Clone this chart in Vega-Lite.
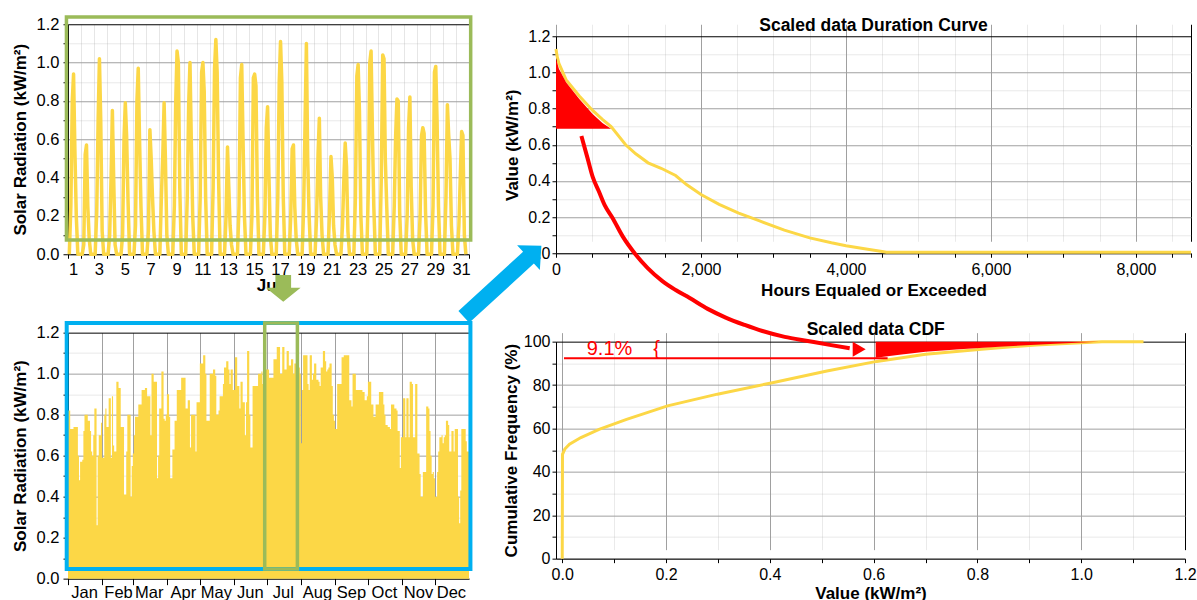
{
"$schema": "https://vega.github.io/schema/vega-lite/v6.json",
"background": "white",
"padding": {"left": 11, "top": 14.25, "right": 0, "bottom": 0},
"autosize": {"type": "pad"},
"columns": 2,
"spacing": {"row": 78.4, "column": 87},
"bounds": "flush",
"align": "each",
"config": {
  "view": {"stroke": null},
  "font": "Liberation Sans",
  "axis": {"labelFont": "Liberation Sans", "titleFont": "Liberation Sans", "labelColor": "#000000", "titleColor": "#000000", "domainColor": "#000000", "tickColor": "#000000", "titleFontWeight": "bold", "labelFontSize": 16, "titleFontSize": 17, "labelFlush": false, "labelOverlap": false, "labelBound": false, "domainWidth": 1, "tickWidth": 1, "gridWidth": 1, "grid": true, "tickCount": 100}
},
"concat": [
{
  "width": 401, "height": 230,
  "layer": [
    {
      "data": {"values": [
{"t":0.10,"v":0},{"t":0.22,"v":0.25},{"t":0.33,"v":0.80},{"t":0.43,"v":0.94},{"t":0.53,"v":0.55},{"t":0.64,"v":0.20},{"t":0.76,"v":0},
{"t":1.10,"v":0},{"t":1.22,"v":0.05},{"t":1.33,"v":0.52},{"t":1.43,"v":0.57},{"t":1.53,"v":0.25},{"t":1.64,"v":0.08},{"t":1.76,"v":0},
{"t":2.10,"v":0},{"t":2.22,"v":0.22},{"t":2.33,"v":0.70},{"t":2.43,"v":1.02},{"t":2.53,"v":0.70},{"t":2.64,"v":0.12},{"t":2.76,"v":0},
{"t":3.10,"v":0},{"t":3.22,"v":0.10},{"t":3.33,"v":0.40},{"t":3.43,"v":0.75},{"t":3.53,"v":0.40},{"t":3.64,"v":0.05},{"t":3.76,"v":0},
{"t":4.10,"v":0},{"t":4.22,"v":0.10},{"t":4.33,"v":0.60},{"t":4.43,"v":0.79},{"t":4.53,"v":0.62},{"t":4.64,"v":0.28},{"t":4.76,"v":0},
{"t":5.10,"v":0},{"t":5.22,"v":0.15},{"t":5.33,"v":0.80},{"t":5.43,"v":0.97},{"t":5.53,"v":0.60},{"t":5.64,"v":0.25},{"t":5.76,"v":0},
{"t":6.10,"v":0},{"t":6.22,"v":0.12},{"t":6.33,"v":0.65},{"t":6.43,"v":0.50},{"t":6.53,"v":0.30},{"t":6.64,"v":0.12},{"t":6.76,"v":0},
{"t":7.10,"v":0},{"t":7.22,"v":0.30},{"t":7.33,"v":0.52},{"t":7.43,"v":0.79},{"t":7.53,"v":0.50},{"t":7.64,"v":0.10},{"t":7.76,"v":0},
{"t":8.10,"v":0},{"t":8.22,"v":0.25},{"t":8.33,"v":0.80},{"t":8.43,"v":1.06},{"t":8.53,"v":1.00},{"t":8.64,"v":0.35},{"t":8.76,"v":0},
{"t":9.10,"v":0},{"t":9.22,"v":0.30},{"t":9.33,"v":0.78},{"t":9.43,"v":1.00},{"t":9.53,"v":0.60},{"t":9.64,"v":0.20},{"t":9.76,"v":0},
{"t":10.10,"v":0},{"t":10.22,"v":0.30},{"t":10.33,"v":0.95},{"t":10.43,"v":1.00},{"t":10.53,"v":0.85},{"t":10.64,"v":0.30},{"t":10.76,"v":0},
{"t":11.10,"v":0},{"t":11.22,"v":0.35},{"t":11.33,"v":0.97},{"t":11.43,"v":1.12},{"t":11.53,"v":0.95},{"t":11.64,"v":0.40},{"t":11.76,"v":0},
{"t":12.10,"v":0},{"t":12.22,"v":0.20},{"t":12.33,"v":0.56},{"t":12.43,"v":0.35},{"t":12.53,"v":0.15},{"t":12.64,"v":0.05},{"t":12.76,"v":0},
{"t":13.10,"v":0},{"t":13.22,"v":0.25},{"t":13.33,"v":0.92},{"t":13.43,"v":0.99},{"t":13.53,"v":0.60},{"t":13.64,"v":0.20},{"t":13.76,"v":0},
{"t":14.10,"v":0},{"t":14.22,"v":0.20},{"t":14.33,"v":0.92},{"t":14.43,"v":0.94},{"t":14.53,"v":0.88},{"t":14.64,"v":0.30},{"t":14.76,"v":0},
{"t":15.10,"v":0},{"t":15.22,"v":0.20},{"t":15.33,"v":0.66},{"t":15.43,"v":0.77},{"t":15.53,"v":0.42},{"t":15.64,"v":0.10},{"t":15.76,"v":0},
{"t":16.10,"v":0},{"t":16.22,"v":0.30},{"t":16.33,"v":0.90},{"t":16.43,"v":1.11},{"t":16.53,"v":0.90},{"t":16.64,"v":0.30},{"t":16.76,"v":0},
{"t":17.10,"v":0},{"t":17.22,"v":0.20},{"t":17.33,"v":0.55},{"t":17.43,"v":0.57},{"t":17.53,"v":0.25},{"t":17.64,"v":0.08},{"t":17.76,"v":0},
{"t":18.10,"v":0},{"t":18.22,"v":0.25},{"t":18.33,"v":0.70},{"t":18.43,"v":1.10},{"t":18.53,"v":0.50},{"t":18.64,"v":0.20},{"t":18.76,"v":0},
{"t":19.10,"v":0},{"t":19.22,"v":0.20},{"t":19.33,"v":0.52},{"t":19.43,"v":0.71},{"t":19.53,"v":0.30},{"t":19.64,"v":0.10},{"t":19.76,"v":0},
{"t":20.10,"v":0},{"t":20.22,"v":0.22},{"t":20.33,"v":0.51},{"t":20.43,"v":0.40},{"t":20.53,"v":0.15},{"t":20.64,"v":0.05},{"t":20.76,"v":0},
{"t":21.10,"v":0},{"t":21.22,"v":0.15},{"t":21.33,"v":0.40},{"t":21.43,"v":0.58},{"t":21.53,"v":0.46},{"t":21.64,"v":0.12},{"t":21.76,"v":0},
{"t":22.10,"v":0},{"t":22.22,"v":0.30},{"t":22.33,"v":0.93},{"t":22.43,"v":0.99},{"t":22.53,"v":0.75},{"t":22.64,"v":0.20},{"t":22.76,"v":0},
{"t":23.10,"v":0},{"t":23.22,"v":0.35},{"t":23.33,"v":1.00},{"t":23.43,"v":1.06},{"t":23.53,"v":0.65},{"t":23.64,"v":0.25},{"t":23.76,"v":0},
{"t":24.10,"v":0},{"t":24.22,"v":0.40},{"t":24.33,"v":1.04},{"t":24.43,"v":1.02},{"t":24.53,"v":0.50},{"t":24.64,"v":0.25},{"t":24.76,"v":0},
{"t":25.10,"v":0},{"t":25.22,"v":0.25},{"t":25.33,"v":0.62},{"t":25.43,"v":0.81},{"t":25.53,"v":0.80},{"t":25.64,"v":0.22},{"t":25.76,"v":0},
{"t":26.10,"v":0},{"t":26.22,"v":0.20},{"t":26.33,"v":0.66},{"t":26.43,"v":0.82},{"t":26.53,"v":0.35},{"t":26.64,"v":0.08},{"t":26.76,"v":0},
{"t":27.10,"v":0},{"t":27.22,"v":0.20},{"t":27.33,"v":0.62},{"t":27.43,"v":0.66},{"t":27.53,"v":0.63},{"t":27.64,"v":0.22},{"t":27.76,"v":0},
{"t":28.10,"v":0},{"t":28.22,"v":0.25},{"t":28.33,"v":0.95},{"t":28.43,"v":0.98},{"t":28.53,"v":0.70},{"t":28.64,"v":0.25},{"t":28.76,"v":0},
{"t":29.10,"v":0},{"t":29.22,"v":0.30},{"t":29.33,"v":0.78},{"t":29.43,"v":0.62},{"t":29.53,"v":0.50},{"t":29.64,"v":0.15},{"t":29.76,"v":0},
{"t":30.10,"v":0},{"t":30.22,"v":0.15},{"t":30.33,"v":0.41},{"t":30.43,"v":0.64},{"t":30.53,"v":0.62},{"t":30.64,"v":0.10},{"t":30.76,"v":0}
      ]},
      "mark": {"type": "line", "color": "#fcd746", "strokeWidth": 3.5, "strokeJoin": "round"},
      "encoding": {
        "x": {"field": "t", "type": "quantitative", "scale": {"domain": [0, 31], "nice": false, "zero": false},
          "axis": {"values": [0,1,2,3,4,5,6,7,8,9,10,11,12,13,14,15,16,17,18,19,20,21,22,23,24,25,26,27,28,29,30,31],
            "labelExpr": "(datum.value % 2 === 0 && datum.value < 31) ? '' + (datum.value + 1) : ''",
            "tickCount": 100, "labelOverlap": false, "labelOffset": 5, "labelFontSize": 16.5, "title": "Jul", "titlePadding": 0, "tickSize": 4, "labelPadding": 3,
            "gridColor": "#e6e6e6"}},
        "y": {"field": "v", "type": "quantitative", "scale": {"domain": [0, 1.2], "nice": false},
          "axis": {"values": [0,0.1,0.2,0.3,0.4,0.5,0.6,0.7,0.8,0.9,1.0,1.1,1.2],
            "labelExpr": "round(datum.value*10) % 2 === 0 ? format(datum.value, '.1f') : ''",
            "tickCount": 100, "labelOverlap": false, "title": "Solar Radiation (kW/m²)", "labelFontSize": 16.5, "tickSize": 5, "labelPadding": 4, "titlePadding": 7,
            "gridColor": {"condition": {"test": "datum.value > 1.15", "value": "#000000"}, "value": "#a0a0a0"},
            "gridOpacity": {"condition": {"test": "round(datum.value*10) % 2 === 1", "value": 0.22}, "value": 1}}}
      }
    },
    {
      "data": {"values": [{}]},
      "mark": {"type": "rect", "fill": null, "stroke": "#9bbb59", "strokeWidth": 3.5},
      "encoding": {"x": {"datum": -0.12}, "x2": {"datum": 31.13}, "y": {"datum": 0.0746}, "y2": {"datum": 1.238}}
    },
    {
      "data": {"values": [{}]},
      "mark": {"type": "point", "shape": "M-0.588,-1L0.588,-1L0.588,-0.05L1.3,-0.05L0,1L-1.3,-0.05L-0.588,-0.05Z", "filled": true, "color": "#9bbb59", "opacity": 1, "size": 713, "strokeWidth": 0},
      "encoding": {"x": {"datum": 16.64}, "y": {"datum": -0.1777}}
    }
  ]
},
{
  "width": 635, "height": 229,
  "layer": [
    {
      "data": {"values": [{"h":0,"v":1.13},{"h":15,"v":1.09},{"h":40,"v":1.05},{"h":138,"v":0.96},{"h":321,"v":0.87},{"h":505,"v":0.79},{"h":640,"v":0.74},{"h":760,"v":0.70},{"h":960,"v":0.60},{"h":1100,"v":0.55},{"h":1270,"v":0.50},{"h":1450,"v":0.47},{"h":1650,"v":0.43},{"h":1800,"v":0.38},{"h":2000,"v":0.325},{"h":2250,"v":0.27},{"h":2520,"v":0.222},{"h":2800,"v":0.18},{"h":3150,"v":0.128},{"h":3500,"v":0.085},{"h":3800,"v":0.058},{"h":4000,"v":0.042},{"h":4300,"v":0.022},{"h":4500,"v":0.01},{"h":4560,"v":0.006},{"h":8760,"v":0.006}]},
      "mark": {"type": "line", "color": "#fcd746", "strokeWidth": 3},
      "encoding": {
        "x": {"field": "h", "type": "quantitative", "scale": {"domain": [0, 8760], "nice": false, "zero": false},
          "axis": {"values": [0,500,1000,1500,2000,2500,3000,3500,4000,4500,5000,5500,6000,6500,7000,7500,8000,8500,8760],
            "labelExpr": "datum.value % 2000 === 0 ? format(datum.value, ',') : ''",
            "tickCount": 100, "labelOverlap": false, "title": "Hours Equaled or Exceeded", "tickSize": 4, "labelPadding": 4, "titlePadding": 5,
            "gridColor": {"condition": {"test": "datum.value === 8760", "value": "#000000"}, "value": "#a0a0a0"},
            "gridOpacity": {"condition": {"test": "datum.value % 2000 !== 0 && datum.value !== 8760", "value": 0.22}, "value": 1}}},
        "y": {"field": "v", "type": "quantitative", "scale": {"domain": [0, 1.2], "nice": false, "range": [229, 12]},
          "axis": {"values": [0,0.1,0.2,0.3,0.4,0.5,0.6,0.7,0.8,0.9,1.0,1.1,1.2],
            "labelExpr": "round(datum.value*10) % 2 === 0 ? format(datum.value, '.1f') : ''",
            "tickCount": 100, "labelOverlap": false, "title": "Value (kW/m²)", "tickSize": 4, "labelPadding": 2, "titlePadding": 6.5,
            "gridColor": {"condition": {"test": "datum.value > 1.15", "value": "#000000"}, "value": "#a0a0a0"},
            "gridOpacity": {"condition": {"test": "round(datum.value*10) % 2 === 1", "value": 0.22}, "value": 1}}}
      }
    },
    {
      "data": {"values": [{"h":0,"v":1.077},{"h":40,"v":1.02},{"h":138,"v":0.945},{"h":321,"v":0.853},{"h":505,"v":0.77},{"h":640,"v":0.72},{"h":759,"v":0.688}]},
      "mark": {"type": "area", "color": "#ff0000", "opacity": 1},
      "encoding": {"x": {"field": "h", "type": "quantitative"}, "y": {"field": "v", "type": "quantitative"}, "y2": {"datum": 0.688}}
    },
    {
      "data": {"values": [{}]},
      "mark": {"type": "text", "text": "Scaled data Duration Curve", "fontWeight": "bold", "fontSize": 17.5, "align": "center", "baseline": "middle", "color": "#000000"},
      "encoding": {"x": {"datum": 4380}, "y": {"datum": 1.2555}}
    }
  ]
},
{
  "width": 401, "height": 246,
  "layer": [
    {
      "data": {"values": [
{"d":0,"v":0.82},{"d":1,"v":0.82},{"d":2,"v":0.73},{"d":3,"v":0.73},{"d":4,"v":0.73},{"d":5,"v":0.74},{"d":6,"v":0.74},{"d":7,"v":0.74},{"d":8,"v":0.74},{"d":9,"v":0.60},{"d":10,"v":0.48},{"d":11,"v":0.57},{"d":12,"v":0.57},{"d":13,"v":0.58},{"d":14,"v":0.72},{"d":15,"v":0.80},{"d":16,"v":0.80},{"d":17,"v":0.80},{"d":18,"v":0.77},{"d":19,"v":0.77},{"d":20,"v":0.72},{"d":21,"v":0.62},{"d":22,"v":0.60},{"d":23,"v":0.70},{"d":24,"v":0.83},{"d":25,"v":0.83},{"d":26,"v":0.26},{"d":27,"v":0.60},{"d":28,"v":0.70},{"d":29,"v":0.70},{"d":30,"v":0.76},
{"d":31,"v":0.59},{"d":32,"v":0.59},{"d":33,"v":0.80},{"d":34,"v":0.83},{"d":35,"v":0.74},{"d":36,"v":0.74},{"d":37,"v":0.88},{"d":38,"v":0.88},{"d":39,"v":0.59},{"d":40,"v":0.89},{"d":41,"v":0.65},{"d":42,"v":0.62},{"d":43,"v":0.62},{"d":44,"v":0.96},{"d":45,"v":0.96},{"d":46,"v":0.93},{"d":47,"v":0.93},{"d":48,"v":0.74},{"d":49,"v":0.74},{"d":50,"v":0.74},{"d":51,"v":0.41},{"d":52,"v":0.41},{"d":53,"v":0.62},{"d":54,"v":0.80},{"d":55,"v":0.80},{"d":56,"v":0.80},{"d":57,"v":0.40},{"d":58,"v":0.55},
{"d":59,"v":0.61},{"d":60,"v":0.70},{"d":61,"v":0.79},{"d":62,"v":0.79},{"d":63,"v":0.79},{"d":64,"v":0.85},{"d":65,"v":0.85},{"d":66,"v":0.85},{"d":67,"v":0.92},{"d":68,"v":0.92},{"d":69,"v":0.92},{"d":70,"v":0.93},{"d":71,"v":0.93},{"d":72,"v":0.89},{"d":73,"v":0.89},{"d":74,"v":0.89},{"d":75,"v":0.70},{"d":76,"v":1.00},{"d":77,"v":1.00},{"d":78,"v":0.96},{"d":79,"v":0.96},{"d":80,"v":0.96},{"d":81,"v":0.49},{"d":82,"v":0.60},{"d":83,"v":0.83},{"d":84,"v":0.83},{"d":85,"v":1.01},{"d":86,"v":1.01},{"d":87,"v":0.78},{"d":88,"v":0.77},{"d":89,"v":0.80},
{"d":90,"v":0.90},{"d":91,"v":0.90},{"d":92,"v":0.79},{"d":93,"v":0.49},{"d":94,"v":0.49},{"d":95,"v":0.63},{"d":96,"v":0.63},{"d":97,"v":0.77},{"d":98,"v":0.77},{"d":99,"v":0.92},{"d":100,"v":0.92},{"d":101,"v":0.92},{"d":102,"v":0.92},{"d":103,"v":0.98},{"d":104,"v":0.98},{"d":105,"v":0.98},{"d":106,"v":0.98},{"d":107,"v":0.83},{"d":108,"v":0.83},{"d":109,"v":0.87},{"d":110,"v":0.87},{"d":111,"v":0.64},{"d":112,"v":0.80},{"d":113,"v":0.80},{"d":114,"v":0.80},{"d":115,"v":0.80},{"d":116,"v":0.62},{"d":117,"v":0.86},{"d":118,"v":0.86},{"d":119,"v":0.86},
{"d":120,"v":1.05},{"d":121,"v":1.05},{"d":122,"v":1.05},{"d":123,"v":1.09},{"d":124,"v":1.09},{"d":125,"v":1.00},{"d":126,"v":0.77},{"d":127,"v":0.77},{"d":128,"v":0.77},{"d":129,"v":1.00},{"d":130,"v":1.00},{"d":131,"v":1.00},{"d":132,"v":1.02},{"d":133,"v":1.02},{"d":134,"v":0.99},{"d":135,"v":0.80},{"d":136,"v":0.80},{"d":137,"v":0.82},{"d":138,"v":0.89},{"d":139,"v":0.89},{"d":140,"v":0.89},{"d":141,"v":0.95},{"d":142,"v":1.03},{"d":143,"v":1.03},{"d":144,"v":1.06},{"d":145,"v":1.06},{"d":146,"v":1.02},{"d":147,"v":0.95},{"d":148,"v":1.02},{"d":149,"v":1.02},{"d":150,"v":0.92},
{"d":151,"v":0.92},{"d":152,"v":1.08},{"d":153,"v":1.08},{"d":154,"v":0.94},{"d":155,"v":0.94},{"d":156,"v":0.83},{"d":157,"v":0.96},{"d":158,"v":0.96},{"d":159,"v":0.86},{"d":160,"v":0.86},{"d":161,"v":0.70},{"d":162,"v":0.86},{"d":163,"v":1.11},{"d":164,"v":1.11},{"d":165,"v":0.80},{"d":166,"v":0.64},{"d":167,"v":0.64},{"d":168,"v":0.94},{"d":169,"v":0.94},{"d":170,"v":0.94},{"d":171,"v":0.94},{"d":172,"v":0.94},{"d":173,"v":1.00},{"d":174,"v":1.00},{"d":175,"v":1.00},{"d":176,"v":1.01},{"d":177,"v":0.95},{"d":178,"v":0.95},{"d":179,"v":1.00},{"d":180,"v":1.02},
{"d":181,"v":1.02},{"d":182,"v":1.02},{"d":183,"v":0.98},{"d":184,"v":0.98},{"d":185,"v":0.98},{"d":186,"v":0.98},{"d":187,"v":1.07},{"d":188,"v":1.07},{"d":189,"v":1.07},{"d":190,"v":1.13},{"d":191,"v":1.13},{"d":192,"v":1.13},{"d":193,"v":1.00},{"d":194,"v":1.00},{"d":195,"v":1.13},{"d":196,"v":1.13},{"d":197,"v":1.02},{"d":198,"v":1.02},{"d":199,"v":1.11},{"d":200,"v":1.11},{"d":201,"v":1.04},{"d":202,"v":1.04},{"d":203,"v":1.07},{"d":204,"v":1.07},{"d":205,"v":1.00},{"d":206,"v":1.05},{"d":207,"v":1.05},{"d":208,"v":1.03},{"d":209,"v":1.03},{"d":210,"v":1.03},{"d":211,"v":1.00},
{"d":212,"v":0.66},{"d":213,"v":0.92},{"d":214,"v":1.09},{"d":215,"v":1.09},{"d":216,"v":1.09},{"d":217,"v":1.09},{"d":218,"v":0.95},{"d":219,"v":0.92},{"d":220,"v":1.09},{"d":221,"v":1.09},{"d":222,"v":0.97},{"d":223,"v":1.00},{"d":224,"v":1.05},{"d":225,"v":1.05},{"d":226,"v":0.97},{"d":227,"v":0.97},{"d":228,"v":0.96},{"d":229,"v":0.94},{"d":230,"v":1.03},{"d":231,"v":1.03},{"d":232,"v":1.11},{"d":233,"v":1.11},{"d":234,"v":1.06},{"d":235,"v":1.01},{"d":236,"v":1.02},{"d":237,"v":1.03},{"d":238,"v":1.05},{"d":239,"v":1.05},{"d":240,"v":0.94},{"d":241,"v":0.80},{"d":242,"v":0.77},
{"d":243,"v":0.73},{"d":244,"v":0.73},{"d":245,"v":0.95},{"d":246,"v":0.95},{"d":247,"v":0.95},{"d":248,"v":0.95},{"d":249,"v":1.08},{"d":250,"v":1.08},{"d":251,"v":1.09},{"d":252,"v":1.09},{"d":253,"v":1.09},{"d":254,"v":1.09},{"d":255,"v":1.09},{"d":256,"v":0.87},{"d":257,"v":0.87},{"d":258,"v":0.84},{"d":259,"v":1.00},{"d":260,"v":1.00},{"d":261,"v":1.00},{"d":262,"v":0.92},{"d":263,"v":0.92},{"d":264,"v":0.92},{"d":265,"v":0.92},{"d":266,"v":0.92},{"d":267,"v":0.92},{"d":268,"v":0.91},{"d":269,"v":0.91},{"d":270,"v":0.87},{"d":271,"v":0.87},{"d":272,"v":0.89},
{"d":273,"v":0.96},{"d":274,"v":0.96},{"d":275,"v":0.96},{"d":276,"v":0.85},{"d":277,"v":0.85},{"d":278,"v":0.79},{"d":279,"v":0.79},{"d":280,"v":0.85},{"d":281,"v":0.85},{"d":282,"v":0.85},{"d":283,"v":0.91},{"d":284,"v":0.91},{"d":285,"v":0.91},{"d":286,"v":0.91},{"d":287,"v":0.85},{"d":288,"v":0.80},{"d":289,"v":0.75},{"d":290,"v":0.75},{"d":291,"v":0.74},{"d":292,"v":0.74},{"d":293,"v":0.73},{"d":294,"v":0.85},{"d":295,"v":0.85},{"d":296,"v":0.85},{"d":297,"v":0.83},{"d":298,"v":0.83},{"d":299,"v":0.82},{"d":300,"v":0.72},{"d":301,"v":0.72},{"d":302,"v":0.54},{"d":303,"v":0.69},
{"d":304,"v":0.69},{"d":305,"v":0.88},{"d":306,"v":0.88},{"d":307,"v":0.69},{"d":308,"v":0.88},{"d":309,"v":0.88},{"d":310,"v":0.69},{"d":311,"v":0.96},{"d":312,"v":0.96},{"d":313,"v":0.95},{"d":314,"v":0.69},{"d":315,"v":0.69},{"d":316,"v":0.95},{"d":317,"v":0.95},{"d":318,"v":0.61},{"d":319,"v":0.61},{"d":320,"v":0.51},{"d":321,"v":0.40},{"d":322,"v":0.40},{"d":323,"v":0.52},{"d":324,"v":0.52},{"d":325,"v":0.52},{"d":326,"v":0.84},{"d":327,"v":0.84},{"d":328,"v":0.83},{"d":329,"v":0.72},{"d":330,"v":0.60},{"d":331,"v":0.51},{"d":332,"v":0.52},{"d":333,"v":0.49},
{"d":334,"v":0.40},{"d":335,"v":0.40},{"d":336,"v":0.52},{"d":337,"v":0.62},{"d":338,"v":0.69},{"d":339,"v":0.69},{"d":340,"v":0.70},{"d":341,"v":0.66},{"d":342,"v":0.69},{"d":343,"v":0.70},{"d":344,"v":0.77},{"d":345,"v":0.77},{"d":346,"v":0.75},{"d":347,"v":0.62},{"d":348,"v":0.62},{"d":349,"v":0.72},{"d":350,"v":0.72},{"d":351,"v":0.62},{"d":352,"v":0.73},{"d":353,"v":0.73},{"d":354,"v":0.73},{"d":355,"v":0.40},{"d":356,"v":0.27},{"d":357,"v":0.43},{"d":358,"v":0.73},{"d":359,"v":0.73},{"d":360,"v":0.73},{"d":361,"v":0.73},{"d":362,"v":0.67},{"d":363,"v":0.62},{"d":364,"v":0.62},{"d":365,"v":0.62}
      ]},
      "mark": {"type": "area", "interpolate": "step-after", "color": "#fcd746", "opacity": 1},
      "encoding": {
        "x": {"field": "d", "type": "quantitative", "scale": {"domain": [0, 365], "nice": false, "zero": false},
          "axis": {"values": [0,31,59,90,120,151,181,212,243,273,304,334],
            "labelExpr": "['Jan','Feb','Mar','Apr','May','Jun','Jul','Aug','Sep','Oct','Nov','Dec'][indexof([0,31,59,90,120,151,181,212,243,273,304,334], datum.value)]",
            "tickCount": 100, "labelOverlap": false, "labelOffset": 16, "labelFontSize": 16.5, "title": null, "tickSize": 6, "labelPadding": 0, "gridColor": "#a0a0a0"}},
        "y": {"field": "v", "type": "quantitative", "scale": {"domain": [0, 1.2], "nice": false},
          "axis": {"values": [0,0.1,0.2,0.3,0.4,0.5,0.6,0.7,0.8,0.9,1.0,1.1,1.2],
            "labelExpr": "round(datum.value*10) % 2 === 0 ? format(datum.value, '.1f') : ''",
            "tickCount": 100, "labelOverlap": false, "title": "Solar Radiation (kW/m²)", "labelFontSize": 16.5, "tickSize": 5, "labelPadding": 4, "titlePadding": 7,
            "gridColor": {"condition": {"test": "datum.value > 1.15", "value": "#000000"}, "value": "#a0a0a0"},
            "gridOpacity": {"condition": {"test": "round(datum.value*10) % 2 === 1", "value": 0.22}, "value": 1}}}
      }
    },
    {
      "data": {"values": [{}]},
      "mark": {"type": "rect", "fill": null, "stroke": "#00b0f0", "strokeWidth": 4},
      "encoding": {"x": {"datum": -1.18}, "x2": {"datum": 366.3}, "y": {"datum": 0.0473}, "y2": {"datum": 1.2473}}
    },
    {
      "data": {"values": [{}]},
      "mark": {"type": "rect", "fill": null, "stroke": "#9bbb59", "strokeWidth": 3.5},
      "encoding": {"x": {"datum": 179.05}, "x2": {"datum": 208.8}, "y": {"datum": 0.0473}, "y2": {"datum": 1.2473}}
    },
    {
      "data": {"values": [{}]},
      "mark": {"type": "point", "shape": "M-1,-0.152L0.667,-0.152L0.667,-0.32L1,0L0.667,0.32L0.667,0.152L-1,0.152Z", "filled": true, "color": "#00b0f0", "opacity": 1, "size": 11067, "angle": -42.5, "strokeWidth": 0},
      "encoding": {"x": {"datum": 395.6}, "y": {"datum": 1.45}}
    }
  ]
},
{
  "width": 629, "height": 226,
  "layer": [
    {
      "data": {"values": [{"x":0,"p":0},{"x":0.0005,"p":48.1},{"x":0.005,"p":50.5},{"x":0.014,"p":52.7},{"x":0.036,"p":55.8},{"x":0.071,"p":59.6},{"x":0.124,"p":64.2},{"x":0.203,"p":70.4},{"x":0.299,"p":75.8},{"x":0.405,"p":81.1},{"x":0.51,"p":86.5},{"x":0.606,"p":90.9},{"x":0.70,"p":94.2},{"x":0.808,"p":96.5},{"x":0.913,"p":98.5},{"x":1.0,"p":99.5},{"x":1.04,"p":100},{"x":1.12,"p":100}]},
      "mark": {"type": "line", "color": "#fcd746", "strokeWidth": 3},
      "encoding": {
        "x": {"field": "x", "type": "quantitative", "scale": {"domain": [-0.012, 1.2], "nice": false, "zero": false},
          "axis": {"values": [0,0.1,0.2,0.3,0.4,0.5,0.6,0.7,0.8,0.9,1.0,1.1,1.2],
            "labelExpr": "round(datum.value*10) % 2 === 0 ? format(datum.value, '.1f') : ''",
            "tickCount": 100, "labelOverlap": false, "title": "Value (kW/m²)", "tickSize": 4, "labelPadding": 4, "titlePadding": 3,
            "gridColor": {"condition": {"test": "datum.value > 1.15", "value": "#000000"}, "value": "#a0a0a0"},
            "gridOpacity": {"condition": {"test": "round(datum.value*10) % 2 === 1", "value": 0.22}, "value": 1}}},
        "y": {"field": "p", "type": "quantitative", "scale": {"domain": [0, 100], "nice": false, "range": [226, 9]},
          "axis": {"values": [0,10,20,30,40,50,60,70,80,90,100],
            "labelExpr": "datum.value % 20 === 0 ? '' + datum.value : ''",
            "tickCount": 100, "labelOverlap": false, "title": "Cumulative Frequency (%)", "tickSize": 4, "labelPadding": 2, "titlePadding": 2.5,
            "gridColor": {"condition": {"test": "datum.value === 100", "value": "#000000"}, "value": "#a0a0a0"},
            "gridOpacity": {"condition": {"test": "datum.value % 20 !== 0", "value": 0.22}, "value": 1}}}
      }
    },
    {
      "data": {"values": [{"x":0.604,"p":92.6},{"x":0.65,"p":94.0},{"x":0.70,"p":95.3},{"x":0.766,"p":96.5},{"x":0.85,"p":97.8},{"x":0.95,"p":99.0},{"x":1.034,"p":100}]},
      "mark": {"type": "area", "color": "#ff0000", "opacity": 1},
      "encoding": {"x": {"field": "x", "type": "quantitative"}, "y": {"field": "p", "type": "quantitative"}, "y2": {"datum": 100}}
    },
    {
      "data": {"values": [{}]},
      "mark": {"type": "rule", "color": "#ff0000", "strokeWidth": 2},
      "encoding": {"x": {"datum": 0.0034}, "x2": {"datum": 0.627}, "y": {"datum": 92.35}}
    },
    {
      "data": {"values": [{}]},
      "mark": {"type": "text", "text": "9.1%", "fontSize": 20, "color": "#ff0000", "align": "center", "baseline": "middle"},
      "encoding": {"x": {"datum": 0.0911}, "y": {"datum": 96.6}}
    },
    {
      "data": {"values": [{}]},
      "mark": {"type": "text", "text": "{", "fontSize": 20, "color": "#ff0000", "align": "center", "baseline": "middle"},
      "encoding": {"x": {"datum": 0.182}, "y": {"datum": 96.4}}
    },
    {
      "data": {"values": [{}]},
      "mark": {"type": "text", "text": "Scaled data CDF", "fontWeight": "bold", "fontSize": 17.5, "align": "center", "baseline": "middle", "color": "#000000"},
      "encoding": {"x": {"datum": 0.604}, "y": {"datum": 105.4}}
    },
    {
      "data": {"values": [{"x":0.0369,"p":194.8},{"x":0.0485,"p":184.8},{"x":0.0587,"p":175.9},{"x":0.0703,"p":169.4},{"x":0.0818,"p":162.9},{"x":0.0967,"p":157.1},{"x":0.1165,"p":148.5},{"x":0.1406,"p":140.4},{"x":0.1647,"p":133.9},{"x":0.1930,"p":127.9},{"x":0.2186,"p":123.8},{"x":0.2456,"p":120.1},{"x":0.2803,"p":115.1},{"x":0.3150,"p":111.1},{"x":0.3516,"p":107.7},{"x":0.3857,"p":104.9},{"x":0.4287,"p":102.2},{"x":0.4730,"p":100.3},{"x":0.5154,"p":98.5},{"x":0.5539,"p":97.0}]},
      "mark": {"type": "line", "color": "#ff0000", "strokeWidth": 4, "interpolate": "monotone"},
      "encoding": {"x": {"field": "x", "type": "quantitative"}, "y": {"field": "p", "type": "quantitative"}}
    },
    {
      "data": {"values": [{}]},
      "mark": {"type": "point", "shape": "triangle-right", "filled": true, "color": "#ff0000", "opacity": 1, "size": 225, "strokeWidth": 0},
      "encoding": {"x": {"datum": 0.5722}, "y": {"datum": 96.5}}
    }
  ]
}
]
}
